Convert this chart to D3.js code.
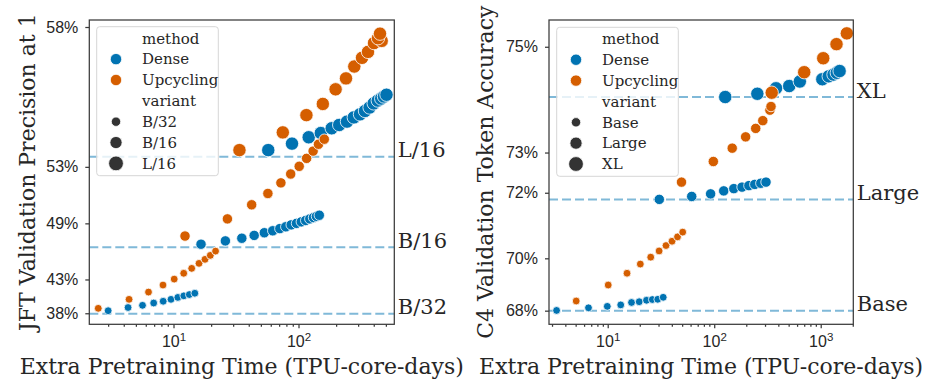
<!DOCTYPE html>
<html lang="en">
<head>
<meta charset="utf-8">
<script src="https://cdn.jsdelivr.net/npm/d3@7/dist/d3.min.js"></script>
<style>
  body { margin: 0; background: #fff; }
  svg { font-family: 'DejaVu Serif', serif; }
  svg text { fill: #262626; }
  .axis path, .axis line { stroke: #3a3a3a; stroke-width: 1.25; }
  .axis text { font-size: 16px; }
  .frame { fill: none; stroke: #3a3a3a; stroke-width: 1.25; }
</style>
</head>
<body>
<svg id="chart" width="935" height="389"></svg>
<script>
// ---- JFT (left panel): [TPU-core-days, precision %] ----
var jftDenseB32 = [[3.00,38.42],[4.33,38.94],[5.65,39.29],[6.94,39.65],[8.27,39.92],[9.55,40.21],[10.83,40.50],[12.09,40.73],[13.38,40.92],[14.81,41.11]];
var jftDenseB16 = [[16.6,47.05],[26.0,47.38],[35.2,47.64],[44.2,47.91],[53.3,48.16],[62.2,48.34],[70.9,48.54],[79.1,48.70],[87.4,48.87],[96.4,49.00],[105.3,49.13],[114.2,49.25],[123.1,49.38],[131.8,49.49],[139.3,49.59],[146.7,49.68]];
var jftDenseL16 = [[57.3,53.90],[88.7,54.22],[120.7,54.52],[150.8,54.71],[184.4,54.92],[211.7,55.06],[244.3,55.20],[277,55.37],[310.5,55.49],[340.4,55.62],[370.6,55.75],[399.6,55.90],[431,56.00],[458.8,56.07],[483,56.14],[505.8,56.20]];
var jftUpB32 = [[2.50,38.81],[4.41,40.21],[6.31,41.28],[8.24,42.26],[10.13,43.05],[12.07,43.79],[13.98,44.39],[16.0,44.98],[17.86,45.44],[19.7,45.88],[21.7,46.34]];
var jftUpB16 = [[12.36,47.85],[27.0,49.38],[42.2,50.50],[56.9,51.32],[72.3,52.03],[86.6,52.58],[101.3,53.03],[116.1,53.47],[130.9,53.85],[144.5,54.19],[160.8,54.43]];
var jftUpL16 = [[33.7,53.90],[74.9,54.74],[115.7,55.46],[156.5,55.88],[198.1,56.38],[239.9,56.72],[279.5,57.06],[322.1,57.29],[359.8,57.44],[401.8,57.65],[463,57.70],[432.5,57.76],[448.7,57.86]];
var jftVariants = ['B/32', 'B/16', 'L/16'];
var jftBaselines = [37.92, 46.73, 53.55];
var jftTicks = [38, 43, 49, 53, 58];

// ---- C4 (right panel): [TPU-core-days, token accuracy %] ----
var c4DenseBase = [[3.31,68.01],[6.60,68.12],[9.91,68.18],[13.25,68.24],[16.73,68.34],[19.76,68.37],[23.14,68.43],[26.23,68.46],[29.49,68.47],[33.2,68.55]];
var c4DenseLarge = [[30.5,71.82],[61.5,71.90],[92.5,71.97],[122.8,72.05],[152.8,72.11],[182.4,72.15],[211.7,72.19],[240.5,72.22],[273.9,72.25],[306.5,72.28]];
var c4DenseXL = [[126.9,74.15],[254,74.21],[380.5,74.31],[506,74.35],[636.6,74.43],[1035,74.47],[1189,74.52],[1319,74.55],[1416,74.58],[1505,74.61]];
var c4UpBase = [[5.06,68.40],[10.11,69.03],[15.18,69.47],[20.24,69.80],[25.34,70.04],[30.38,70.25],[35.27,70.43],[40.16,70.57],[45.23,70.71],[50.6,70.86]];
var c4UpLarge = [[49.3,72.28],[98.1,72.79],[147.6,73.10],[197.2,73.35],[245.3,73.53],[285.9,73.69],[333.4,73.90],[341.4,73.97]];
var c4UpXL = [[346.7,74.23],[700,74.59],[1056,74.82],[1407,75.04],[1759,75.20]];
var c4Variants = ['Base', 'Large', 'XL'];
var c4Baselines = [68.00, 71.82, 74.15];
var c4Ticks = [68, 70, 72, 73, 75];

var methods = ['Dense', 'Upcycling'];
var colors = { Dense: '#0173b2', Upcycling: '#d55e00' };
var radii = [3.9, 5.2, 6.7];
var legendRadii = [4.7, 6.1, 7.4];

var svg = d3.select('#chart');

function drawPanel(p) {
  var x = d3.scaleLog().domain(p.xDomain).range([p.left, p.right]);
  // y axis is logarithmic in (cap - accuracy)
  var yLog = d3.scaleLog()
    .domain([p.cap - p.yDomain[0], p.cap - p.yDomain[1]])
    .range([p.bottom, p.top]);
  var y = function (v) { return yLog(p.cap - v); };

  var g = svg.append('g');

  // baselines
  p.baselines.forEach(function (b, i) {
    g.append('line')
      .attr('x1', p.left).attr('x2', p.right)
      .attr('y1', y(b)).attr('y2', y(b))
      .attr('stroke', '#0173b2').attr('stroke-opacity', 0.5)
      .attr('stroke-width', 2).attr('stroke-dasharray', '9,4');
    g.append('text')
      .attr('x', p.right + 3.5).attr('y', y(b) + 0.5)
      .style('font-size', '21px')
      .text(p.variants[i]);
  });

  // points: dense first, then upcycling
  p.series.forEach(function (s) {
    g.selectAll(null)
      .data(s.data)
      .enter().append('circle')
      .attr('cx', function (d) { return x(d[0]); })
      .attr('cy', function (d) { return y(d[1]); })
      .attr('r', radii[s.size])
      .attr('fill', colors[s.method])
      .attr('stroke', '#fff').attr('stroke-width', 0.8);
  });

  // x axis: major + minor ticks
  var minor = [];
  for (var e = 0; e < 4; e++) {
    for (var k = 2; k < 10; k++) {
      var v = k * Math.pow(10, e);
      if (v > p.xDomain[0] && v < p.xDomain[1]) minor.push(v);
    }
  }
  g.append('g').attr('class', 'axis')
    .attr('transform', 'translate(0,' + p.bottom + ')')
    .call(d3.axisBottom(x).tickValues(minor).tickSize(2.5).tickFormat(''))
    .select('.domain').remove();
  var xa = g.append('g').attr('class', 'axis')
    .attr('transform', 'translate(0,' + p.bottom + ')')
    .call(d3.axisBottom(x).tickValues(p.xMajor).tickSize(4).tickFormat(''));
  xa.select('.domain').remove();
  xa.selectAll('.tick').append('text')
    .attr('y', 22.5)
    .attr('text-anchor', 'middle')
    .each(function (d) {
      var t = d3.select(this);
      t.append('tspan').text('10');
      t.append('tspan').attr('dy', '-0.5em').style('font-size', '11.5px')
        .text(Math.round(Math.log10(d)));
    });

  // y axis
  var ya = g.append('g').attr('class', 'axis')
    .attr('transform', 'translate(' + p.left + ',0)')
    .call(d3.axisLeft(yLog)
      .tickValues(p.ticks.map(function (t) { return p.cap - t; }))
      .tickSize(4).tickPadding(7)
      .tickFormat(function (v) { return Math.round(p.cap - v) + '%'; }));
  ya.select('.domain').remove();
  ya.selectAll('text').attr('fill', '#262626');
  xa.selectAll('text').attr('fill', '#262626');

  // frame
  g.append('rect').attr('class', 'frame')
    .attr('x', p.left).attr('y', p.top)
    .attr('width', p.right - p.left).attr('height', p.bottom - p.top);

  // axis titles
  g.append('text')
    .attr('x', (p.left + p.right) / 2).attr('y', 374)
    .attr('text-anchor', 'middle').style('font-size', '22px')
    .text('Extra Pretraining Time (TPU-core-days)');
  g.append('text')
    .attr('transform', 'translate(' + p.yLabelX + ',' + (p.top + p.bottom) / 2 + ') rotate(-90)')
    .attr('text-anchor', 'middle').attr('dy', '0.35em').style('font-size', '22px')
    .text(p.yLabel);

  // legend
  var lg = g.append('g').attr('transform', 'translate(' + p.legend[0] + ',' + p.legend[1] + ')');
  lg.append('rect')
    .attr('width', 121.6).attr('height', 149).attr('rx', 3)
    .attr('fill', '#fff').attr('fill-opacity', 0.8)
    .attr('stroke', '#d6d6d6').attr('stroke-width', 1);
  var rows = [{ label: 'method' }]
    .concat(methods.map(function (m) { return { label: m, color: colors[m], r: 5.7 }; }))
    .concat([{ label: 'variant' }])
    .concat(p.variants.map(function (v, i) { return { label: v, color: '#333', r: legendRadii[i] }; }));
  rows.forEach(function (row, i) {
    var cy = 11.6 + i * 20.85;
    if (row.color) {
      lg.append('circle').attr('cx', 19.3).attr('cy', cy).attr('r', row.r)
        .attr('fill', row.color).attr('stroke', '#fff').attr('stroke-width', 0.8);
    }
    lg.append('text').attr('x', 45.3).attr('y', cy).attr('dy', '0.35em')
      .style('font-size', '15px').text(row.label);
  });
}

drawPanel({
  left: 89.3, right: 394.3, top: 20, bottom: 324.3,
  xDomain: [2.12, 584], xMajor: [10, 100],
  cap: 60.8, yDomain: [36.08, 58.14], ticks: jftTicks,
  baselines: jftBaselines, variants: jftVariants,
  yLabel: 'JFT Validation Precision at 1', yLabelX: 27,
  legend: [96.7, 26.7],
  series: [
    { method: 'Dense', size: 0, data: jftDenseB32 },
    { method: 'Dense', size: 1, data: jftDenseB16 },
    { method: 'Dense', size: 2, data: jftDenseL16 },
    { method: 'Upcycling', size: 0, data: jftUpB32 },
    { method: 'Upcycling', size: 1, data: jftUpB16 },
    { method: 'Upcycling', size: 2, data: jftUpL16 }
  ]
});

drawPanel({
  left: 549, right: 853.3, top: 20, bottom: 324.3,
  xDomain: [2.81, 2023], xMajor: [10, 100, 1000],
  cap: 79, yDomain: [67.41, 75.39], ticks: c4Ticks,
  baselines: c4Baselines, variants: c4Variants,
  yLabel: 'C4 Validation Token Accuracy', yLabelX: 485,
  legend: [556.7, 27.3],
  series: [
    { method: 'Dense', size: 0, data: c4DenseBase },
    { method: 'Dense', size: 1, data: c4DenseLarge },
    { method: 'Dense', size: 2, data: c4DenseXL },
    { method: 'Upcycling', size: 0, data: c4UpBase },
    { method: 'Upcycling', size: 1, data: c4UpLarge },
    { method: 'Upcycling', size: 2, data: c4UpXL }
  ]
});
</script>
</body>
</html>
